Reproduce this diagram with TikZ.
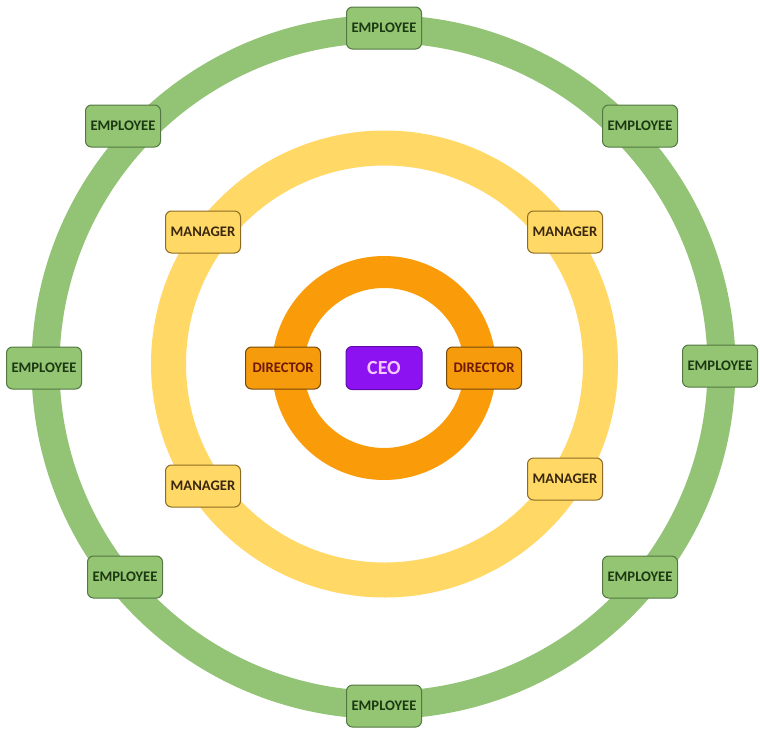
\documentclass[tikz,border=0pt]{standalone}
\usepackage{fontspec}
\setmainfont{Carlito}
\definecolor{ringgreen}{RGB}{147,196,118}
\definecolor{boxgreen}{RGB}{147,197,114}
\definecolor{edgegreen}{RGB}{84,120,66}
\definecolor{textgreen}{RGB}{28,56,18}
\definecolor{ringyellow}{RGB}{255,216,102}
\definecolor{edgeyellow}{RGB}{140,108,36}
\definecolor{textbrown}{RGB}{58,40,14}
\definecolor{ringorange}{RGB}{250,155,10}
\definecolor{boxorange}{RGB}{246,156,12}
\definecolor{edgeorange}{RGB}{120,72,10}
\definecolor{textred}{RGB}{110,24,6}
\definecolor{ceopurple}{RGB}{140,18,242}
\definecolor{ceotext}{RGB}{244,200,255}
\begin{document}
\begin{tikzpicture}[x=1pt,y=-1pt,
  tag/.style={rounded corners=6pt, line width=1pt, minimum width=75pt,
    minimum height=42pt, inner sep=0pt, font=\fontsize{14.6}{16}\selectfont\bfseries},
  employee/.style={tag, fill=boxgreen, draw=edgegreen, text=textgreen},
  manager/.style={tag, fill=ringyellow, draw=edgeyellow, text=textbrown},
  director/.style={tag, fill=boxorange, draw=edgeorange, text=textred},
  chief/.style={tag, fill=ceopurple, draw=ceopurple!70!black, text=ceotext,
    minimum width=76pt, minimum height=43pt, font=\fontsize{20}{22}\selectfont\bfseries}]
\useasboundingbox (0,0) rectangle (760,729);
\fill[white] (0,0) rectangle (760,729);

% concentric bands
\draw[ringgreen, line width=28pt] (383.5,367) circle[radius=338];
\draw[ringyellow, line width=35pt] (384.5,364) circle[radius=216];
\draw[ringorange, line width=32pt] (384,368) circle[radius=96];

% centre
\node[chief] (ceo) at (384,368) {CEO};

% inner band
\node[director] (dirL) at (283,368) {DIRECTOR};
\node[director] (dirR) at (484,368) {DIRECTOR};

% middle band
\node[manager] (mgrUL) at (203,232) {MANAGER};
\node[manager] (mgrUR) at (565,232) {MANAGER};
\node[manager] (mgrLL) at (203,486) {MANAGER};
\node[manager] (mgrLR) at (565,479) {MANAGER};

% outer band
\node[employee] (empT)  at (384,28)  {EMPLOYEE};
\node[employee] (empB)  at (384,706) {EMPLOYEE};
\node[employee] (empL)  at (44,368)  {EMPLOYEE};
\node[employee] (empR)  at (720,366) {EMPLOYEE};
\node[employee] (empUL) at (123,126) {EMPLOYEE};
\node[employee] (empUR) at (640,126) {EMPLOYEE};
\node[employee] (empLL) at (125,577) {EMPLOYEE};
\node[employee] (empLR) at (640,577) {EMPLOYEE};
\end{tikzpicture}
\end{document}
